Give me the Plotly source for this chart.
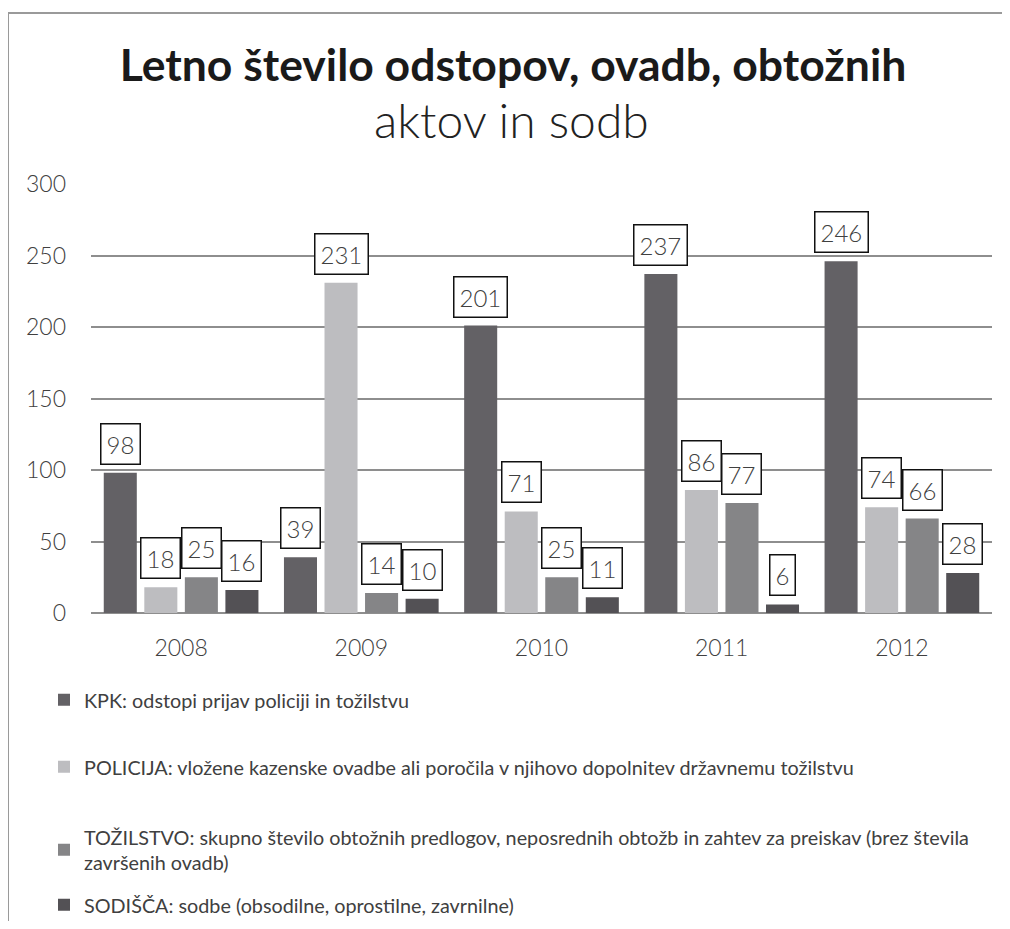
import plotly.graph_objects as go

years = ['2008', '2009', '2010', '2011', '2012']
kpk = [98, 39, 201, 237, 246]
policija = [18, 231, 71, 86, 74]
tozilstvo = [25, 14, 25, 77, 66]
sodisca = [16, 10, 11, 6, 28]

series_names = [
    'KPK: odstopi prijav policiji in tožilstvu',
    'POLICIJA: vložene kazenske ovadbe ali poročila v njihovo dopolnitev državnemu tožilstvu',
    'TOŽILSTVO: skupno število obtožnih predlogov, neposrednih obtožb in zahtev za preiskav (brez števila<br>završenih ovadb)',
    'SODIŠČA: sodbe (obsodilne, oprostilne, zavrnilne)',
]
series_values = [kpk, policija, tozilstvo, sodisca]
colors = ['#636165', '#bdbdc0', '#858587', '#535155']

# page has an 8px body margin, keep the figure inside the window so nothing scrolls
OFF = 8
W, H = 1010 - 2 * OFF, 929 - 2 * OFF
L, T = 91 - OFF, 184 - OFF
R = W - (992 - OFF)
B = H - (613 - OFF)
pw, ph = W - L - R, H - T - B
bargap = 0.1
n = len(series_values)
slot = (1 - bargap) / n

def px_x(p):
    # p: x pixel position in the page
    return (p - OFF - L) / pw

def px_y(p):
    return (H - B - (p - OFF)) / ph

FONT = 'Lato'
TXT = '#404040'

fig = go.Figure()
legend_ids = ['legend', 'legend2', 'legend3', 'legend4']
for i, (name, vals, col) in enumerate(zip(series_names, series_values, colors)):
    fig.add_trace(go.Bar(x=years, y=vals, name=name, marker_color=col,
                         marker_line_width=0, legend=legend_ids[i]))

# boxed data labels above each bar
annotations = []
for i, vals in enumerate(series_values):
    for j, v in enumerate(vals):
        annotations.append(dict(
            x=j + (i - (n - 1) / 2) * slot, y=v, xref='x', yref='y',
            text=str(v), showarrow=False, yanchor='bottom', yshift=8,
            font=dict(family=FONT, size=24, color=TXT, weight=300),
            bgcolor='white', bordercolor='#111111', borderwidth=1.5, borderpad=5))

annotations.append(dict(
    x=px_x(511), y=px_y(120), xref='paper', yref='paper',
    text='aktov in sodb', showarrow=False, xanchor='center', yanchor='middle',
    font=dict(family=FONT, size=48, color='#222222', weight=300)))

legend_centers = [700, 767, 850, 905]
legends = {}
for lid, yc in zip(legend_ids, legend_centers):
    legends[lid] = dict(x=px_x(44), y=px_y(yc), xanchor='left', yanchor='middle',
                        font=dict(family=FONT, size=19.8, color=TXT),
                        bgcolor='rgba(0,0,0,0)', itemwidth=30)

shapes = [
    dict(type='line', xref='paper', yref='paper', x0=px_x(8), x1=px_x(1015),
         y0=px_y(13), y1=px_y(13), line=dict(color='#9a9a9a', width=2)),
    dict(type='line', xref='paper', yref='paper', x0=px_x(8), x1=px_x(8),
         y0=px_y(13), y1=px_y(935), line=dict(color='#9a9a9a', width=2)),
]

fig.update_layout(
    width=W, height=H,
    margin=dict(l=L, r=R, t=T, b=B, autoexpand=False),
    paper_bgcolor='white', plot_bgcolor='white',
    barmode='group', bargap=bargap, bargroupgap=0.185,
    title=dict(text='<b>Letno število odstopov, ovadb, obtožnih</b>',
               x=(513 - OFF) / W, xanchor='center', xref='container',
               y=1 - (65 - OFF) / H, yanchor='middle', yref='container',
               font=dict(family=FONT, size=44.5, color='#1a1a1a')),
    xaxis=dict(type='category', showgrid=False, showline=False, ticks='',
               tickfont=dict(family=FONT, size=23, color=TXT, weight=300),
               ticklabelstandoff=19),
    yaxis=dict(range=[0, 300], dtick=50, showgrid=True, gridcolor='#8e8e8e',
               gridwidth=1.5, zeroline=True, zerolinecolor='#8e8e8e', zerolinewidth=1.5,
               ticks='', tickfont=dict(family=FONT, size=23, color=TXT, weight=300),
               ticklabelstandoff=24),
    annotations=annotations,
    shapes=shapes,
    showlegend=True,
    **legends,
)

fig.write_html('out.html')
